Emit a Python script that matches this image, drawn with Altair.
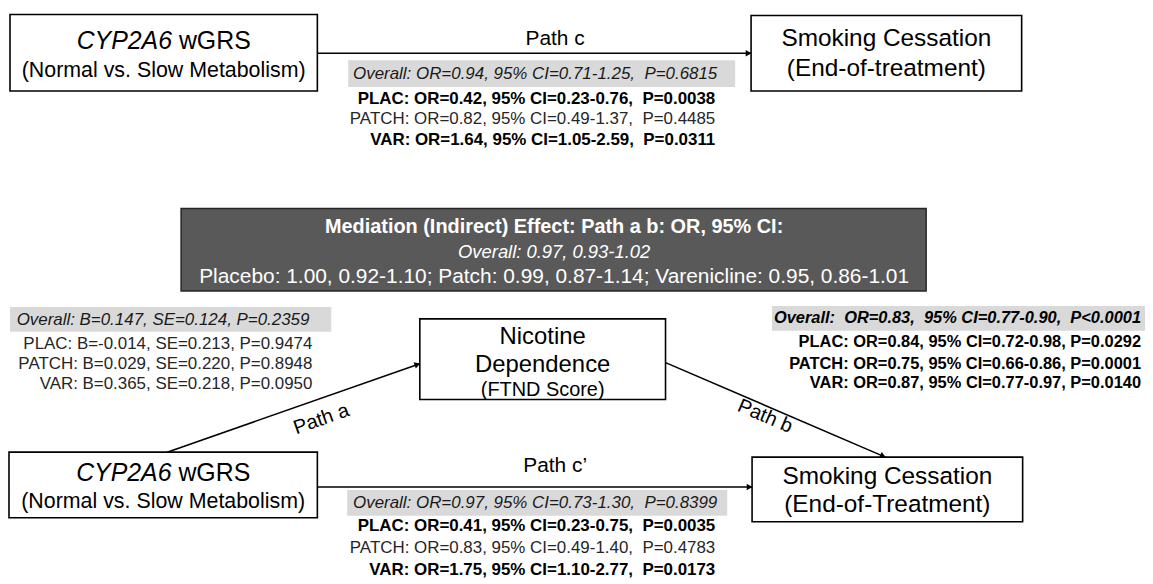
import math
import altair as alt
import pandas as pd

# ---------------- content (text values) ----------------
exposure_lines = ["CYP2A6", "wGRS", "(Normal vs. Slow Metabolism)"]
outcome_top_lines = ["Smoking Cessation", "(End-of-treatment)"]
outcome_bottom_lines = ["Smoking Cessation", "(End-of-Treatment)"]
mediator_lines = ["Nicotine", "Dependence", "(FTND Score)"]
path_labels = ["Path c", "Path a", "Path b", "Path c\u2019"]

path_c_stats = [
    "Overall: OR=0.94, 95% CI=0.71-1.25, \u00a0P=0.6815",
    "PLAC: OR=0.42, 95% CI=0.23-0.76, \u00a0P=0.0038",
    "PATCH: OR=0.82, 95% CI=0.49-1.37, \u00a0P=0.4485",
    "VAR: OR=1.64, 95% CI=1.05-2.59, \u00a0P=0.0311",
]
path_a_stats = [
    "Overall: B=0.147, SE=0.124, P=0.2359",
    "PLAC: B=-0.014, SE=0.213, P=0.9474",
    "PATCH: B=0.029, SE=0.220, P=0.8948",
    "VAR: B=0.365, SE=0.218, P=0.0950",
]
path_b_stats = [
    "Overall: \u00a0OR=0.83, \u00a095% CI=0.77-0.90, \u00a0P<0.0001",
    "PLAC: OR=0.84, 95% CI=0.72-0.98, P=0.0292",
    "PATCH: OR=0.75, 95% CI=0.66-0.86, P=0.0001",
    "VAR: OR=0.87, 95% CI=0.77-0.97, P=0.0140",
]
path_c_prime_stats = [
    "Overall: OR=0.97, 95% CI=0.73-1.30, \u00a0P=0.8399",
    "PLAC: OR=0.41, 95% CI=0.23-0.75, \u00a0P=0.0035",
    "PATCH: OR=0.83, 95% CI=0.49-1.40, \u00a0P=0.4783",
    "VAR: OR=1.75, 95% CI=1.10-2.77, \u00a0P=0.0173",
]
mediation_lines = [
    "Mediation (Indirect) Effect: Path a b: OR, 95% CI:",
    "Overall: 0.97, 0.93-1.02",
    "Placebo: 1.00, 0.92-1.10; Patch: 0.99, 0.87-1.14; Varenicline: 0.95, 0.86-1.01",
]

# ---------------- layout (page pixel coordinates) ----------------
FONT = "Liberation Sans"
XS = alt.Scale(domain=[8, 1145], nice=False, zero=False)
YS = alt.Scale(domain=[576, 8], nice=False, zero=False)

layers = []


def enc(df_chart, **kw):
    e = dict(x=alt.X("x:Q", scale=XS, axis=None), y=alt.Y("y:Q", scale=YS, axis=None))
    e.update(kw)
    return df_chart.encode(**e)


def rect(x1, y1, x2, y2, fill, stroke=None, sw=0):
    df = pd.DataFrame({"x": [x1], "y": [y1], "x2": [x2], "y2": [y2]})
    props = dict(fill=fill, strokeWidth=sw)
    if stroke:
        props["stroke"] = stroke
    layers.append(enc(alt.Chart(df).mark_rect(**props), x2="x2:Q", y2="y2:Q"))


def text(x, y, s, size, align="center", weight="normal", style="normal",
         color="#000000", angle=0):
    df = pd.DataFrame({"x": [x], "y": [y], "t": [s]})
    layers.append(enc(alt.Chart(df).mark_text(
        font=FONT, fontSize=size, align=align, baseline="middle",
        fontWeight=weight, fontStyle=style, color=color, angle=angle),
        text="t:N"))


def arrow(x1, y1, x2, y2):
    df = pd.DataFrame({"x": [x1], "y": [y1], "x2": [x2], "y2": [y2]})
    layers.append(enc(alt.Chart(df).mark_rule(color="#000000", strokeWidth=1.6),
                      x2="x2:Q", y2="y2:Q"))
    ang = math.degrees(math.atan2(y2 - y1, x2 - x1))
    L = math.hypot(x2 - x1, y2 - y1)
    back = 3.5
    hx = x2 - (x2 - x1) / L * back
    hy = y2 - (y2 - y1) / L * back
    dfh = pd.DataFrame({"x": [hx], "y": [hy]})
    layers.append(enc(alt.Chart(dfh).mark_point(
        shape="triangle", filled=True, color="#000000", opacity=1,
        size=45, angle=(ang + 90) % 360, strokeWidth=0)))


# boxes
BOX_STROKE = "#000000"
rect(9, 13, 318, 90, "#ffffff", BOX_STROKE, 1.6)
rect(754, 14, 1026, 90, "#ffffff", BOX_STROKE, 1.6)
rect(421, 319, 668, 400, "#ffffff", BOX_STROKE, 1.6)
rect(8, 453, 318, 519, "#ffffff", BOX_STROKE, 1.6)
rect(755, 458, 1027, 523, "#ffffff", BOX_STROKE, 1.6)

# grey highlight boxes
GREY = "#d9d9d9"
rect(349, 59, 738, 86, GREY)
rect(9, 307, 332, 332, GREY)
rect(775, 306, 1150, 331, GREY)
rect(348, 491, 730, 517, GREY)

# dark mediation box
rect(181, 208, 930, 291, "#595959", "#262626", 1.5)

# arrows
arrow(318, 52, 754, 52)
arrow(167, 453, 421, 364)
arrow(668, 363, 889, 458)
arrow(318, 488, 755, 488)


def split_title(cx, cy, italic_part, rest, size):
    # italic word followed by upright word, centred as a whole
    wi = 3.835 * size
    wr = 3.167 * size
    start = cx - (wi + wr) / 2
    text(start + wi, cy, italic_part, size, align="right", style="italic")
    text(start + wi + 0.278 * size, cy, rest, size, align="left")


# exposure boxes
split_title(163.5, 40, exposure_lines[0], exposure_lines[1], 25)
text(163.5, 70, exposure_lines[2], 21.5)
split_title(163, 474, exposure_lines[0], exposure_lines[1], 25)
text(163, 503, exposure_lines[2], 21.5)

# outcome boxes
text(890, 38, outcome_top_lines[0], 24.5)
text(890, 68, outcome_top_lines[1], 24.5)
text(891, 478, outcome_bottom_lines[0], 24.5)
text(891, 506, outcome_bottom_lines[1], 24.5)

# mediator box
text(544.5, 337, mediator_lines[0], 24)
text(544.5, 365, mediator_lines[1], 24)
text(544.5, 391, mediator_lines[2], 20)

# path labels
text(557, 38, path_labels[0], 21)
text(322, 420, path_labels[1], 20, angle=(math.degrees(math.atan2(364 - 453, 421 - 167))) % 360)
text(768, 417, path_labels[2], 20, angle=math.degrees(math.atan2(458 - 363, 889 - 668)))
text(557, 467, path_labels[3], 21)


def stats(lines, xr, ys_, weights):
    text(xr + 2, ys_[0], lines[0], 17, align="right", style="italic", color="#1a1a1a")
    for s, y, w in zip(lines[1:], ys_[1:], weights):
        text(xr, y, s, 17, align="right", weight=w,
             color="#000000" if w == "bold" else "#262626")


stats(path_c_stats, 718, [73, 98, 118, 139], ["bold", "normal", "bold"])
stats(path_c_prime_stats, 718, [504, 527, 549, 571], ["bold", "normal", "bold"])

# path a (left) stats
text(310, 320, path_a_stats[0], 17, align="right", style="italic", color="#1a1a1a")
for s, y in zip(path_a_stats[1:], [344, 364, 385]):
    text(313, y, s, 17, align="right", color="#262626")

# path b (right) stats
text(1146, 318, path_b_stats[0], 16.5, align="right", style="italic", weight="bold")
for s, y in zip(path_b_stats[1:], [342, 364, 384]):
    text(1146, y, s, 16.5, align="right", weight="bold")

# mediation box text
text(556, 227, mediation_lines[0], 20, weight="bold", color="#ffffff")
text(556, 252, mediation_lines[1], 18.5, style="italic", color="#ffffff")
text(556, 277, mediation_lines[2], 21, color="#ffffff")

chart = alt.layer(*layers).properties(
    width=1137, height=568, padding=0, background="#ffffff"
).configure_view(stroke=None)

chart.save("out.html", embed_options={"renderer": "svg", "actions": False})
